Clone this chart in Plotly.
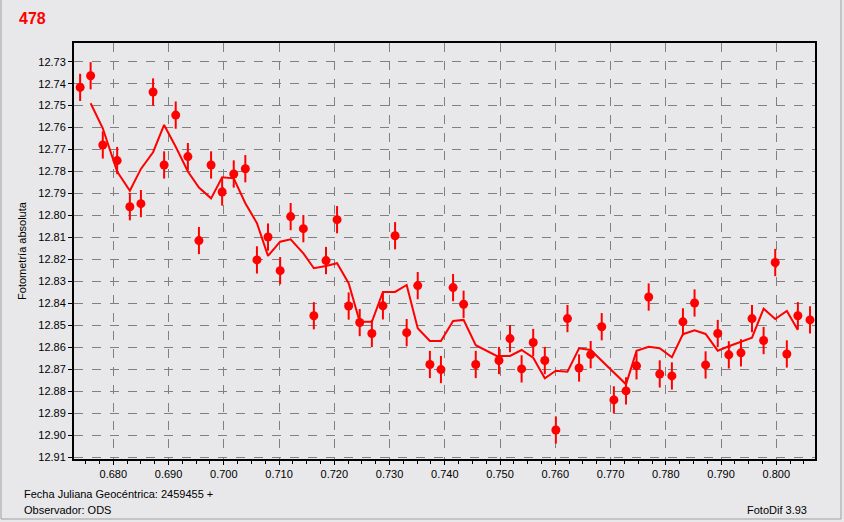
import plotly.graph_objects as go

# Observations (Julian date fraction, magnitude)
obs_x = [0.6740, 0.6759, 0.6781, 0.6807, 0.6830, 0.6850, 0.6872, 0.6892, 0.6913, 0.6935,
         0.6955, 0.6977, 0.6997, 0.7018, 0.7039, 0.7060, 0.7080, 0.7102, 0.7121, 0.7144,
         0.7163, 0.7185, 0.7205, 0.7226, 0.7246, 0.7268, 0.7288, 0.7310, 0.7331, 0.7351,
         0.7373, 0.7393, 0.7415, 0.7434, 0.7456, 0.7498, 0.7518, 0.7539, 0.7560, 0.7581,
         0.7601, 0.7622, 0.7643, 0.7664, 0.7684, 0.7706, 0.7728, 0.7747, 0.7769, 0.7789,
         0.7811, 0.7831, 0.7852, 0.7872, 0.7894, 0.7914, 0.7936, 0.7956, 0.7977, 0.7998,
         0.8019, 0.8039, 0.8061]
obs_y = [12.7417, 12.7364, 12.7679, 12.7750, 12.7960, 12.7946, 12.7438, 12.7770, 12.7543, 12.7732,
         12.8114, 12.7770, 12.7893, 12.7811, 12.7787, 12.8202, 12.8098, 12.8251, 12.8005, 12.8060,
         12.8456, 12.8205, 12.8019, 12.8412, 12.8487, 12.8537, 12.8411, 12.8092, 12.8533, 12.8319,
         12.8678, 12.8701, 12.8328, 12.8404, 12.8678, 12.8660, 12.8560, 12.8698, 12.8578, 12.8660,
         12.8976, 12.8469, 12.8694, 12.8633, 12.8506, 12.8839, 12.8798, 12.8684, 12.8371, 12.8721,
         12.8730, 12.8484, 12.8398, 12.8680, 12.8537, 12.8634, 12.8625, 12.8469, 12.8569, 12.8214,
         12.8630, 12.8456, 12.8475]
obs_err = 0.0062

# Smoothed curve
line_x = [0.6759, 0.6781, 0.6807, 0.6830, 0.6850, 0.6872, 0.6892, 0.6913, 0.6935, 0.6955,
          0.6977, 0.6997, 0.7018, 0.7039, 0.7060, 0.7080, 0.7102, 0.7121, 0.7144, 0.7163,
          0.7185, 0.7205, 0.7226, 0.7246, 0.7268, 0.7288, 0.7310, 0.7331, 0.7351, 0.7373,
          0.7393, 0.7415, 0.7434, 0.7456, 0.7494, 0.7518, 0.7539, 0.7560, 0.7581, 0.7601,
          0.7622, 0.7643, 0.7664, 0.7728, 0.7747, 0.7769, 0.7789, 0.7811, 0.7831, 0.7852,
          0.7872, 0.7894, 0.7914, 0.7936, 0.7956, 0.7977, 0.7998, 0.8019, 0.8039]
line_y = [12.7489, 12.7603, 12.7800, 12.7887, 12.7788, 12.7712, 12.7588, 12.7687, 12.7800, 12.7873,
          12.7922, 12.7826, 12.7831, 12.7944, 12.8035, 12.8184, 12.8119, 12.8108, 12.8172, 12.8240,
          12.8230, 12.8217, 12.8308, 12.8484, 12.8484, 12.8348, 12.8348, 12.8316, 12.8513, 12.8571,
          12.8571, 12.8480, 12.8475, 12.8590, 12.8639, 12.8639, 12.8612, 12.8647, 12.8741, 12.8706,
          12.8711, 12.8604, 12.8612, 12.8768, 12.8616, 12.8597, 12.8604, 12.8645, 12.8540, 12.8522,
          12.8539, 12.8615, 12.8595, 12.8575, 12.8556, 12.8424, 12.8471, 12.8434, 12.8521]

x_ticks = [0.680, 0.690, 0.700, 0.710, 0.720, 0.730, 0.740, 0.750, 0.760, 0.770, 0.780, 0.790, 0.800]
y_ticks = [12.73, 12.74, 12.75, 12.76, 12.77, 12.78, 12.79, 12.80, 12.81, 12.82,
           12.83, 12.84, 12.85, 12.86, 12.87, 12.88, 12.89, 12.90, 12.91]

RED = "#FF0000"
BG = "#E8E8EA"
FONT = "Liberation Sans"

W, H = 844, 522
L, R, T, B = 74, 29, 43, 63
pw, ph = W - L - R, H - T - B


def px(xpix):
    return (xpix - L) / pw


def py(ypix):
    return (H - B - ypix) / ph


fig = go.Figure()
fig.add_trace(go.Scatter(
    x=line_x, y=line_y, mode="lines",
    line=dict(color=RED, width=2), showlegend=False, hoverinfo="skip"))
fig.add_trace(go.Scatter(
    x=obs_x, y=obs_y, mode="markers",
    marker=dict(color=RED, size=9, symbol="circle", line=dict(width=0)),
    error_y=dict(type="constant", value=obs_err, color=RED, thickness=2, width=0),
    showlegend=False))

axis_common = dict(
    showline=True, linecolor="black", mirror=True,
    showgrid=True, gridcolor="#808080", griddash="dash", gridwidth=1,
    zeroline=False, ticks="outside", ticklen=4, tickcolor="black",
    tickfont=dict(family=FONT, size=11, color="#000000"),
)

fig.update_xaxes(
    **axis_common, range=[0.67289, 0.8070], tickvals=x_ticks,
    ticktext=[f"{v:.3f}" for v in x_ticks], linewidth=2,
    minor=dict(dtick=0.0025, tick0=0.68, ticks="outside", ticklen=3, tickcolor="black", showgrid=False),
)
fig.update_yaxes(
    **axis_common, range=[12.9108, 12.7215], tickvals=y_ticks,
    ticktext=[f"{v:.2f}" for v in y_ticks], linewidth=2,
    title=dict(text="Fotometría absoluta", font=dict(family=FONT, size=11, color="black"), standoff=9),
)

fig.update_layout(
    width=W, height=H,
    margin=dict(l=L, r=R, t=T, b=B, autoexpand=False),
    paper_bgcolor=BG, plot_bgcolor=BG,
    font=dict(family=FONT, size=11, color="black"),
)

fig.add_annotation(text="<b>478</b>", x=px(17), y=py(18), xref="paper", yref="paper",
                   xanchor="left", yanchor="middle", showarrow=False,
                   font=dict(family=FONT, size=16, color=RED))
fig.add_annotation(text="Fecha Juliana Geocéntrica: 2459455 +", x=px(22), y=py(494),
                   xref="paper", yref="paper", xanchor="left", yanchor="middle",
                   showarrow=False, font=dict(family=FONT, size=11, color="black"))
fig.add_annotation(text="Observador: ODS", x=px(22), y=py(510),
                   xref="paper", yref="paper", xanchor="left", yanchor="middle",
                   showarrow=False, font=dict(family=FONT, size=11, color="black"))
fig.add_annotation(text="FotoDif 3.93", x=px(809), y=py(510),
                   xref="paper", yref="paper", xanchor="right", yanchor="middle",
                   showarrow=False, font=dict(family=FONT, size=11, color="black"))

# window frame
fig.add_shape(type="rect", xref="paper", yref="paper",
              x0=px(1), x1=px(841), y0=py(519), y1=py(-5),
              line=dict(color="#A0A0A0", width=1), layer="below")

fig.write_html("out.html", config={"displayModeBar": False},
               post_script="document.body.style.margin='0';document.body.style.padding='0';")
